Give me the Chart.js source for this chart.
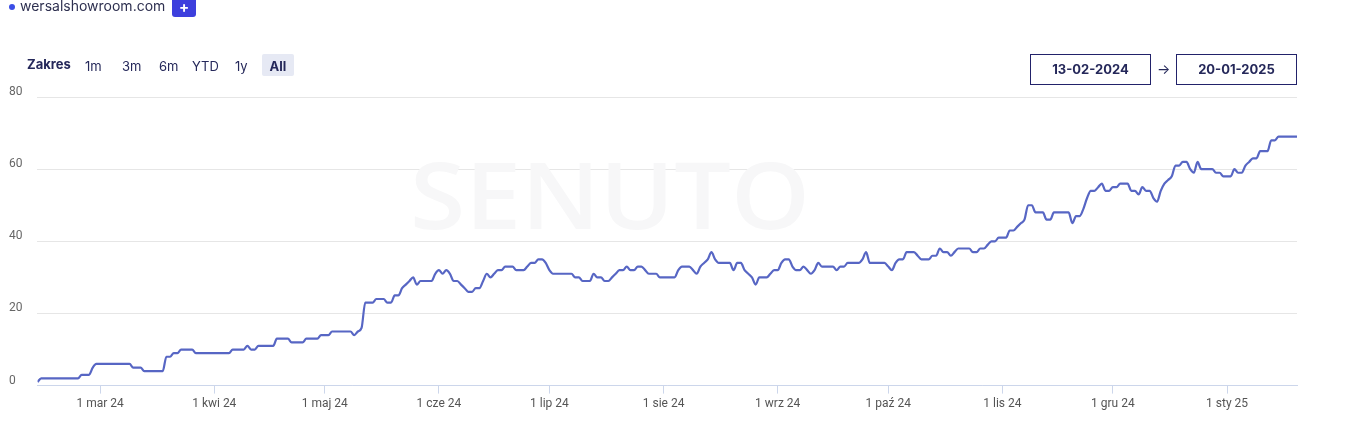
<!DOCTYPE html>
<html><head><meta charset="utf-8">
<script src="https://cdn.jsdelivr.net/npm/chart.js@4.4.1/dist/chart.umd.min.js"></script>
<style>
html,body{margin:0;padding:0;background:#fff;width:1358px;height:442px;overflow:hidden;font-family:"Inter","Open Sans",sans-serif;}
#wrap{position:relative;width:1358px;height:442px;}
#c{position:absolute;left:0;top:0;}
.abs{position:absolute;white-space:nowrap;line-height:16px;}
.dot{left:9px;top:4px;width:6px;height:6px;border-radius:3px;background:#3b4ee6;}
.site{left:20px;top:-2px;font-size:14px;color:#2e3050;}
.plus{left:172px;top:-3px;width:24px;height:20px;border-radius:3px;background:#3d3fdd;color:#fff;font-size:15px;font-weight:700;text-align:center;line-height:19px;}
.zak{left:27px;top:56px;font-size:13px;font-weight:700;color:#25285a;}
.rb{top:58px;font-size:13px;color:#25285a;}
.allbox{left:262px;top:54px;width:32px;height:22px;background:#e6e9f4;border-radius:2px;}
.all{left:262px;top:58px;width:32px;text-align:center;font-size:13px;font-weight:700;color:#25285a;}
.db{top:54px;width:119px;height:29px;border:1px solid #22226a;text-align:center;font-size:13px;font-weight:700;color:#25285a;line-height:29px;}
.arr{left:1157px;top:61px;font-size:14px;color:#25285a;}
</style></head>
<body><div id="wrap">
<canvas id="c" width="1358" height="442"></canvas>
<div class="abs dot"></div>
<div class="abs site">wersalshowroom.com</div>
<div class="abs plus">+</div>
<div class="abs zak">Zakres</div>
<div class="abs rb" style="left:85px">1m</div>
<div class="abs rb" style="left:122px">3m</div>
<div class="abs rb" style="left:159px">6m</div>
<div class="abs rb" style="left:192px">YTD</div>
<div class="abs rb" style="left:235px">1y</div>
<div class="abs allbox"></div>
<div class="abs all">All</div>
<div class="abs db" style="left:1030px">13-02-2024</div>
<div class="abs arr">→</div>
<div class="abs db" style="left:1176px">20-01-2025</div>
</div>
<script>
// Daily visibility values, 13-02-2024 .. 20-01-2025 (index = day number)
const values = [
1,2,2,2,2,2,2,2,2,2,
2,2,3,3,3,5,6,6,6,6,
6,6,6,6,6,6,5,5,5,4,
4,4,4,4,4,8,8,9,9,10,
10,10,10,9,9,9,9,9,9,9,
9,9,9,10,10,10,10,11,10,10,
11,11,11,11,11,13,13,13,13,12,
12,12,12,13,13,13,13,14,14,14,
15,15,15,15,15,15,14,15,16,23,
23,23,24,24,24,23,23,25,25,27,
28,29,30,28,29,29,29,29,31,32,
31,32,31,29,29,28,27,26,26,27,
27,29,31,30,31,32,32,33,33,33,
32,32,32,33,34,34,35,35,34,32,
31,31,31,31,31,31,30,30,29,29,
29,31,30,30,29,29,30,31,32,32,
33,32,32,33,33,32,31,31,31,30,
30,30,30,30,32,33,33,33,32,31,
33,34,35,37,35,34,34,34,34,32,
34,34,32,31,30,28,30,30,30,31,
32,32,34,35,35,33,32,32,33,32,
31,32,34,33,33,33,33,32,33,33,
34,34,34,34,35,37,34,34,34,34,
34,33,32,34,35,35,37,37,37,36,
35,35,35,36,36,38,37,37,36,37,
38,38,38,38,37,37,38,38,39,40,
40,41,41,41,43,43,44,45,46,50,
50,48,48,48,46,46,48,48,48,48,
48,45,47,47,49,52,54,54,55,56,
54,54,55,55,56,56,56,54,54,53,
55,54,54,52,51,54,56,57,58,61,
61,62,62,60,59,62,60,60,60,60,
59,59,58,58,58,60,59,59,61,62,
63,63,65,65,65,68,68,69,69,69,
69,69,69
];
// Day numbers of the 1st of each month, and their labels
const tickDays = [17,48,78,109,139,170,201,231,262,292,323];
const tickLabels = ["1 mar 24","1 kwi 24","1 maj 24","1 cze 24","1 lip 24","1 sie 24","1 wrz 24","1 paź 24","1 lis 24","1 gru 24","1 sty 25"];
const yTicks = [0,20,40,60,80];

const points = values.map((v,i)=>({x:i,y:v}));

const watermark = {
  id:'watermark',
  beforeDatasetsDraw(chart){
    const ctx = chart.ctx;
    ctx.save();
    ctx.font = '600 92px "Open Sans", sans-serif';
    ctx.fillStyle = '#f7f7f8';
    ctx.textAlign = 'left';
    ctx.textBaseline = 'alphabetic';
    const t = 'SENUTO';
    const w = ctx.measureText(t).width;
    ctx.translate(410, 229);
    ctx.scale(400 / w, 1);
    ctx.fillText(t, 0, 0);
    ctx.restore();
  }
};

new Chart(document.getElementById('c'), {
  type:'line',
  data:{datasets:[{
    data:points,
    borderColor:'#5766c4',
    borderWidth:2.2,
    pointRadius:0,
    pointHoverRadius:0,
    fill:false,
    cubicInterpolationMode:'monotone'
  }]},
  options:{
    responsive:false,
    animation:false,
    events:[],
    layout:{padding:{left:9,right:61,top:97,bottom:28}},
    plugins:{legend:{display:false},tooltip:{enabled:false}},
    scales:{
      x:{
        type:'linear',
        min:0,max:values.length-1,
        afterBuildTicks(scale){ scale.ticks = tickDays.map(v=>({value:v})); },
        ticks:{
          autoSkip:false,maxRotation:0,padding:3,
          color:'#555',
          font:{family:'Roboto',size:12},
          callback(v){ const i = tickDays.indexOf(v); return i>=0 ? tickLabels[i] : ''; }
        },
        grid:{drawOnChartArea:false,drawTicks:true,tickLength:8,color:'#ccd6eb'},
        border:{display:true,color:'#ccd6eb',width:1}
      },
      y:{
        min:0,max:80,
        afterBuildTicks(scale){ scale.ticks = yTicks.map(v=>({value:v})); },
        ticks:{
          color:'#666',padding:7.5,labelOffset:-5,crossAlign:'far',
          font:{family:'Roboto',size:12}
        },
        grid:{color:'#e6e6e6',drawTicks:false},
        border:{display:false}
      }
    }
  },
  plugins:[watermark]
});
</script>
</body></html>
